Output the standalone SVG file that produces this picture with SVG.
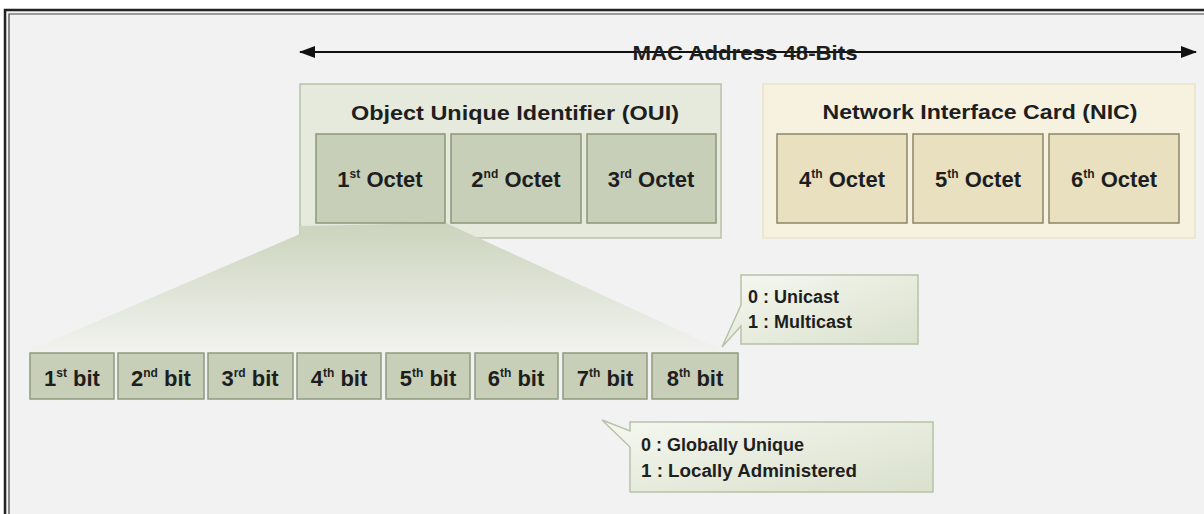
<svg xmlns="http://www.w3.org/2000/svg" width="1204" height="514" viewBox="0 0 1204 514">
<defs>
<marker id="ah" markerWidth="16" markerHeight="14" refX="15" refY="7" orient="auto-start-reverse" markerUnits="userSpaceOnUse"><path d="M0,1 L16,7 L0,13 Z" fill="#111"/></marker>
<linearGradient id="fan" x1="0" y1="0" x2="0" y2="1"><stop offset="0" stop-color="#cbd4bd"/><stop offset="1" stop-color="#f1f2ee"/></linearGradient>
<linearGradient id="call" x1="0" y1="0" x2="1" y2="1"><stop offset="0" stop-color="#f6f8f1"/><stop offset="1" stop-color="#d9e0cc"/></linearGradient>
</defs>
<style>
text{font-family:"Liberation Sans",Arial,sans-serif;font-weight:bold;fill:#1e1e1e}
.t{font-size:21px;text-anchor:middle}
.o{font-size:22px;text-anchor:middle}
.b{font-size:22px;text-anchor:middle}
.s{font-size:12px}
.c{font-size:18px}
.oui{fill:#e6eadd;stroke:#b9c2ab;stroke-width:1.5}
.nic{fill:#f6f2df;stroke:#e9e3c9;stroke-width:1.5}
.og{fill:#c7cfb8;stroke:#8c9779;stroke-width:1.5}
.on{fill:#e9e0c0;stroke:#8d8568;stroke-width:1.5}
.bit{fill:#c7cfb8;stroke:#8f9a7e;stroke-width:1.5}
.cb{fill:url(#call);stroke:#b8c2a6;stroke-width:1.5}
</style>
<rect x="0" y="0" width="1204" height="514" fill="#ffffff"/>
<rect x="5" y="10" width="1199" height="504" fill="#f2f2f2"/>
<path d="M5,514 V10 H1204" fill="none" stroke="#222" stroke-width="2.5"/>
<path d="M9,514 V14 H1204" fill="none" stroke="#444" stroke-width="1.2"/>

<g id="connectors">
<line x1="300" y1="52" x2="1196" y2="52" stroke="#111" stroke-width="2.2" marker-start="url(#ah)" marker-end="url(#ah)"/>
</g>
<text class="t" x="745" y="60" textLength="225" lengthAdjust="spacingAndGlyphs">MAC Address 48-Bits</text>

<g id="oui">
<rect class="oui" x="300" y="84" width="421" height="154"/>
<path d="M300,234 L300,226 L446,223 L722,350 L30,350 Z" fill="url(#fan)"/>
<text class="t" x="515" y="120" textLength="328" lengthAdjust="spacingAndGlyphs">Object Unique Identifier (OUI)</text>
<rect class="og" x="316" y="134" width="129" height="89"/>
<text class="o" x="380" y="187">1<tspan class="s" dy="-9">st</tspan><tspan dy="9"> Octet</tspan></text>
<rect class="og" x="451" y="134" width="130" height="89"/>
<text class="o" x="516" y="187">2<tspan class="s" dy="-9">nd</tspan><tspan dy="9"> Octet</tspan></text>
<rect class="og" x="587" y="134" width="129" height="89"/>
<text class="o" x="651" y="187">3<tspan class="s" dy="-9">rd</tspan><tspan dy="9"> Octet</tspan></text>
</g>

<g id="nic">
<rect class="nic" x="763" y="84" width="432" height="154"/>
<text class="t" x="980" y="119" textLength="315" lengthAdjust="spacingAndGlyphs">Network Interface Card (NIC)</text>
<rect class="on" x="777" y="134" width="130" height="89"/>
<text class="o" x="842" y="187">4<tspan class="s" dy="-9">th</tspan><tspan dy="9"> Octet</tspan></text>
<rect class="on" x="913" y="134" width="130" height="89"/>
<text class="o" x="978" y="187">5<tspan class="s" dy="-9">th</tspan><tspan dy="9"> Octet</tspan></text>
<rect class="on" x="1049" y="134" width="130" height="89"/>
<text class="o" x="1114" y="187">6<tspan class="s" dy="-9">th</tspan><tspan dy="9"> Octet</tspan></text>
</g>

<g id="bits">
<rect class="bit" x="30" y="353" width="84" height="46"/>
<text class="b" x="72" y="386">1<tspan class="s" dy="-9">st</tspan><tspan dy="9"> bit</tspan></text>
<rect class="bit" x="118" y="353" width="86" height="46"/>
<text class="b" x="161" y="386">2<tspan class="s" dy="-9">nd</tspan><tspan dy="9"> bit</tspan></text>
<rect class="bit" x="208" y="353" width="85" height="46"/>
<text class="b" x="250" y="386">3<tspan class="s" dy="-9">rd</tspan><tspan dy="9"> bit</tspan></text>
<rect class="bit" x="297" y="353" width="84" height="46"/>
<text class="b" x="339" y="386">4<tspan class="s" dy="-9">th</tspan><tspan dy="9"> bit</tspan></text>
<rect class="bit" x="386" y="353" width="84" height="46"/>
<text class="b" x="428" y="386">5<tspan class="s" dy="-9">th</tspan><tspan dy="9"> bit</tspan></text>
<rect class="bit" x="475" y="353" width="83" height="46"/>
<text class="b" x="516" y="386">6<tspan class="s" dy="-9">th</tspan><tspan dy="9"> bit</tspan></text>
<rect class="bit" x="563" y="353" width="84" height="46"/>
<text class="b" x="605" y="386">7<tspan class="s" dy="-9">th</tspan><tspan dy="9"> bit</tspan></text>
<rect class="bit" x="652" y="353" width="86" height="46"/>
<text class="b" x="695" y="386">8<tspan class="s" dy="-9">th</tspan><tspan dy="9"> bit</tspan></text>
</g>

<g id="callout-cast">
<path class="cb" d="M741,275 H918 V344 H741 V326 L722,347 L741,305 Z"/>
<text class="c" x="748" y="303">0 : Unicast</text>
<text class="c" x="748" y="328">1 : Multicast</text>
</g>

<g id="callout-admin">
<path class="cb" d="M630,422 H933 V492 H630 V447 L602,420 L630,431 Z"/>
<text class="c" x="641" y="451">0 : Globally Unique</text>
<text class="c" x="641" y="477" textLength="216" lengthAdjust="spacingAndGlyphs">1 : Locally Administered</text>
</g>
</svg>
